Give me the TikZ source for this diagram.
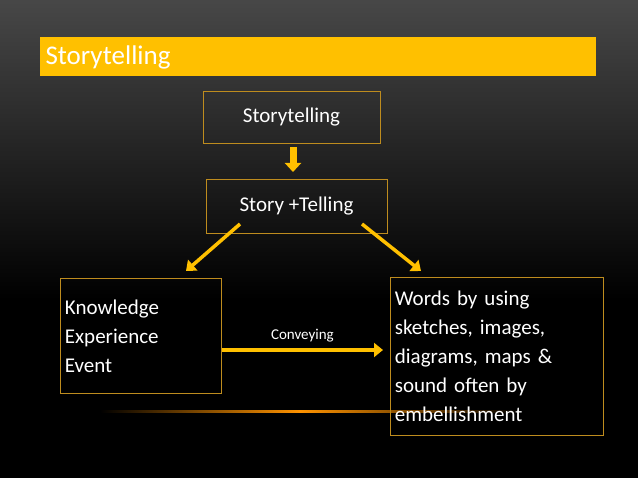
\documentclass[tikz,border=0pt]{standalone}
\usepackage{fontspec}
\setmainfont{Carlito}
\usetikzlibrary{arrows.meta}
\definecolor{gold}{RGB}{255,192,0}
\definecolor{edge}{RGB}{190,140,30}
\begin{document}
\begin{tikzpicture}[x=1pt,y=-1pt,
  box/.style={draw=edge,line width=0.8pt,text=white,font=\fontsize{21}{29}\selectfont},
  arr/.style={draw=gold,line width=3.5pt,-{Triangle[length=9pt,width=14pt]}},
  fat/.style={draw=gold,line width=7pt,-{Triangle[length=9pt,width=16pt]}}]
\useasboundingbox (0,0) rectangle (638,478);
\fill[black] (0,0) rectangle (638,478);
\shade[top color=black!72!white, bottom color=black] (0,0) rectangle (638,300);
\shade[left color=black, right color=orange!85!yellow] (100,411) rectangle (300,413);
\shade[left color=orange!85!yellow, right color=black] (299,411) rectangle (520,413);
\fill[gold] (40,37) rectangle (596,76);
\node[anchor=west,text=white,font=\fontsize{27}{30}\selectfont] (title) at (42,57) {Storytelling};
\node[box,minimum width=177pt,minimum height=52pt,anchor=north,inner ysep=3pt] (b1) at (291.5,91) {Storytelling};
\node[box,minimum width=181pt,minimum height=54pt,anchor=north,inner ysep=5pt] (b2) at (296.5,179) {Story +Telling};
\node[box,minimum width=161pt,minimum height=115pt,anchor=north west,align=left,text width=152pt,inner sep=4pt] (b3) at (60,278) {Knowledge\\Experience\\Event};
\node[box,minimum width=213pt,minimum height=158pt,anchor=north west,align=left,text width=204pt,inner sep=4pt] (b4) at (390,277) {Words by using\\sketches, images,\\diagrams, maps \&\\sound often by\\embellishment};
\draw[fat] (293,147) -- (293,172);
\coordinate (l1) at (240,224); \coordinate (l2) at (186,271);
\coordinate (r1) at (362,224); \coordinate (r2) at (421,271);
\draw[arr] (l1) -- (l2);
\draw[arr] (r1) -- (r2);
\draw[arr] (b3.east |- 0,350) -- (383,350) node[midway,above=3pt,text=white,font=\fontsize{15}{17}\selectfont] {Conveying};
\end{tikzpicture}
\end{document}
